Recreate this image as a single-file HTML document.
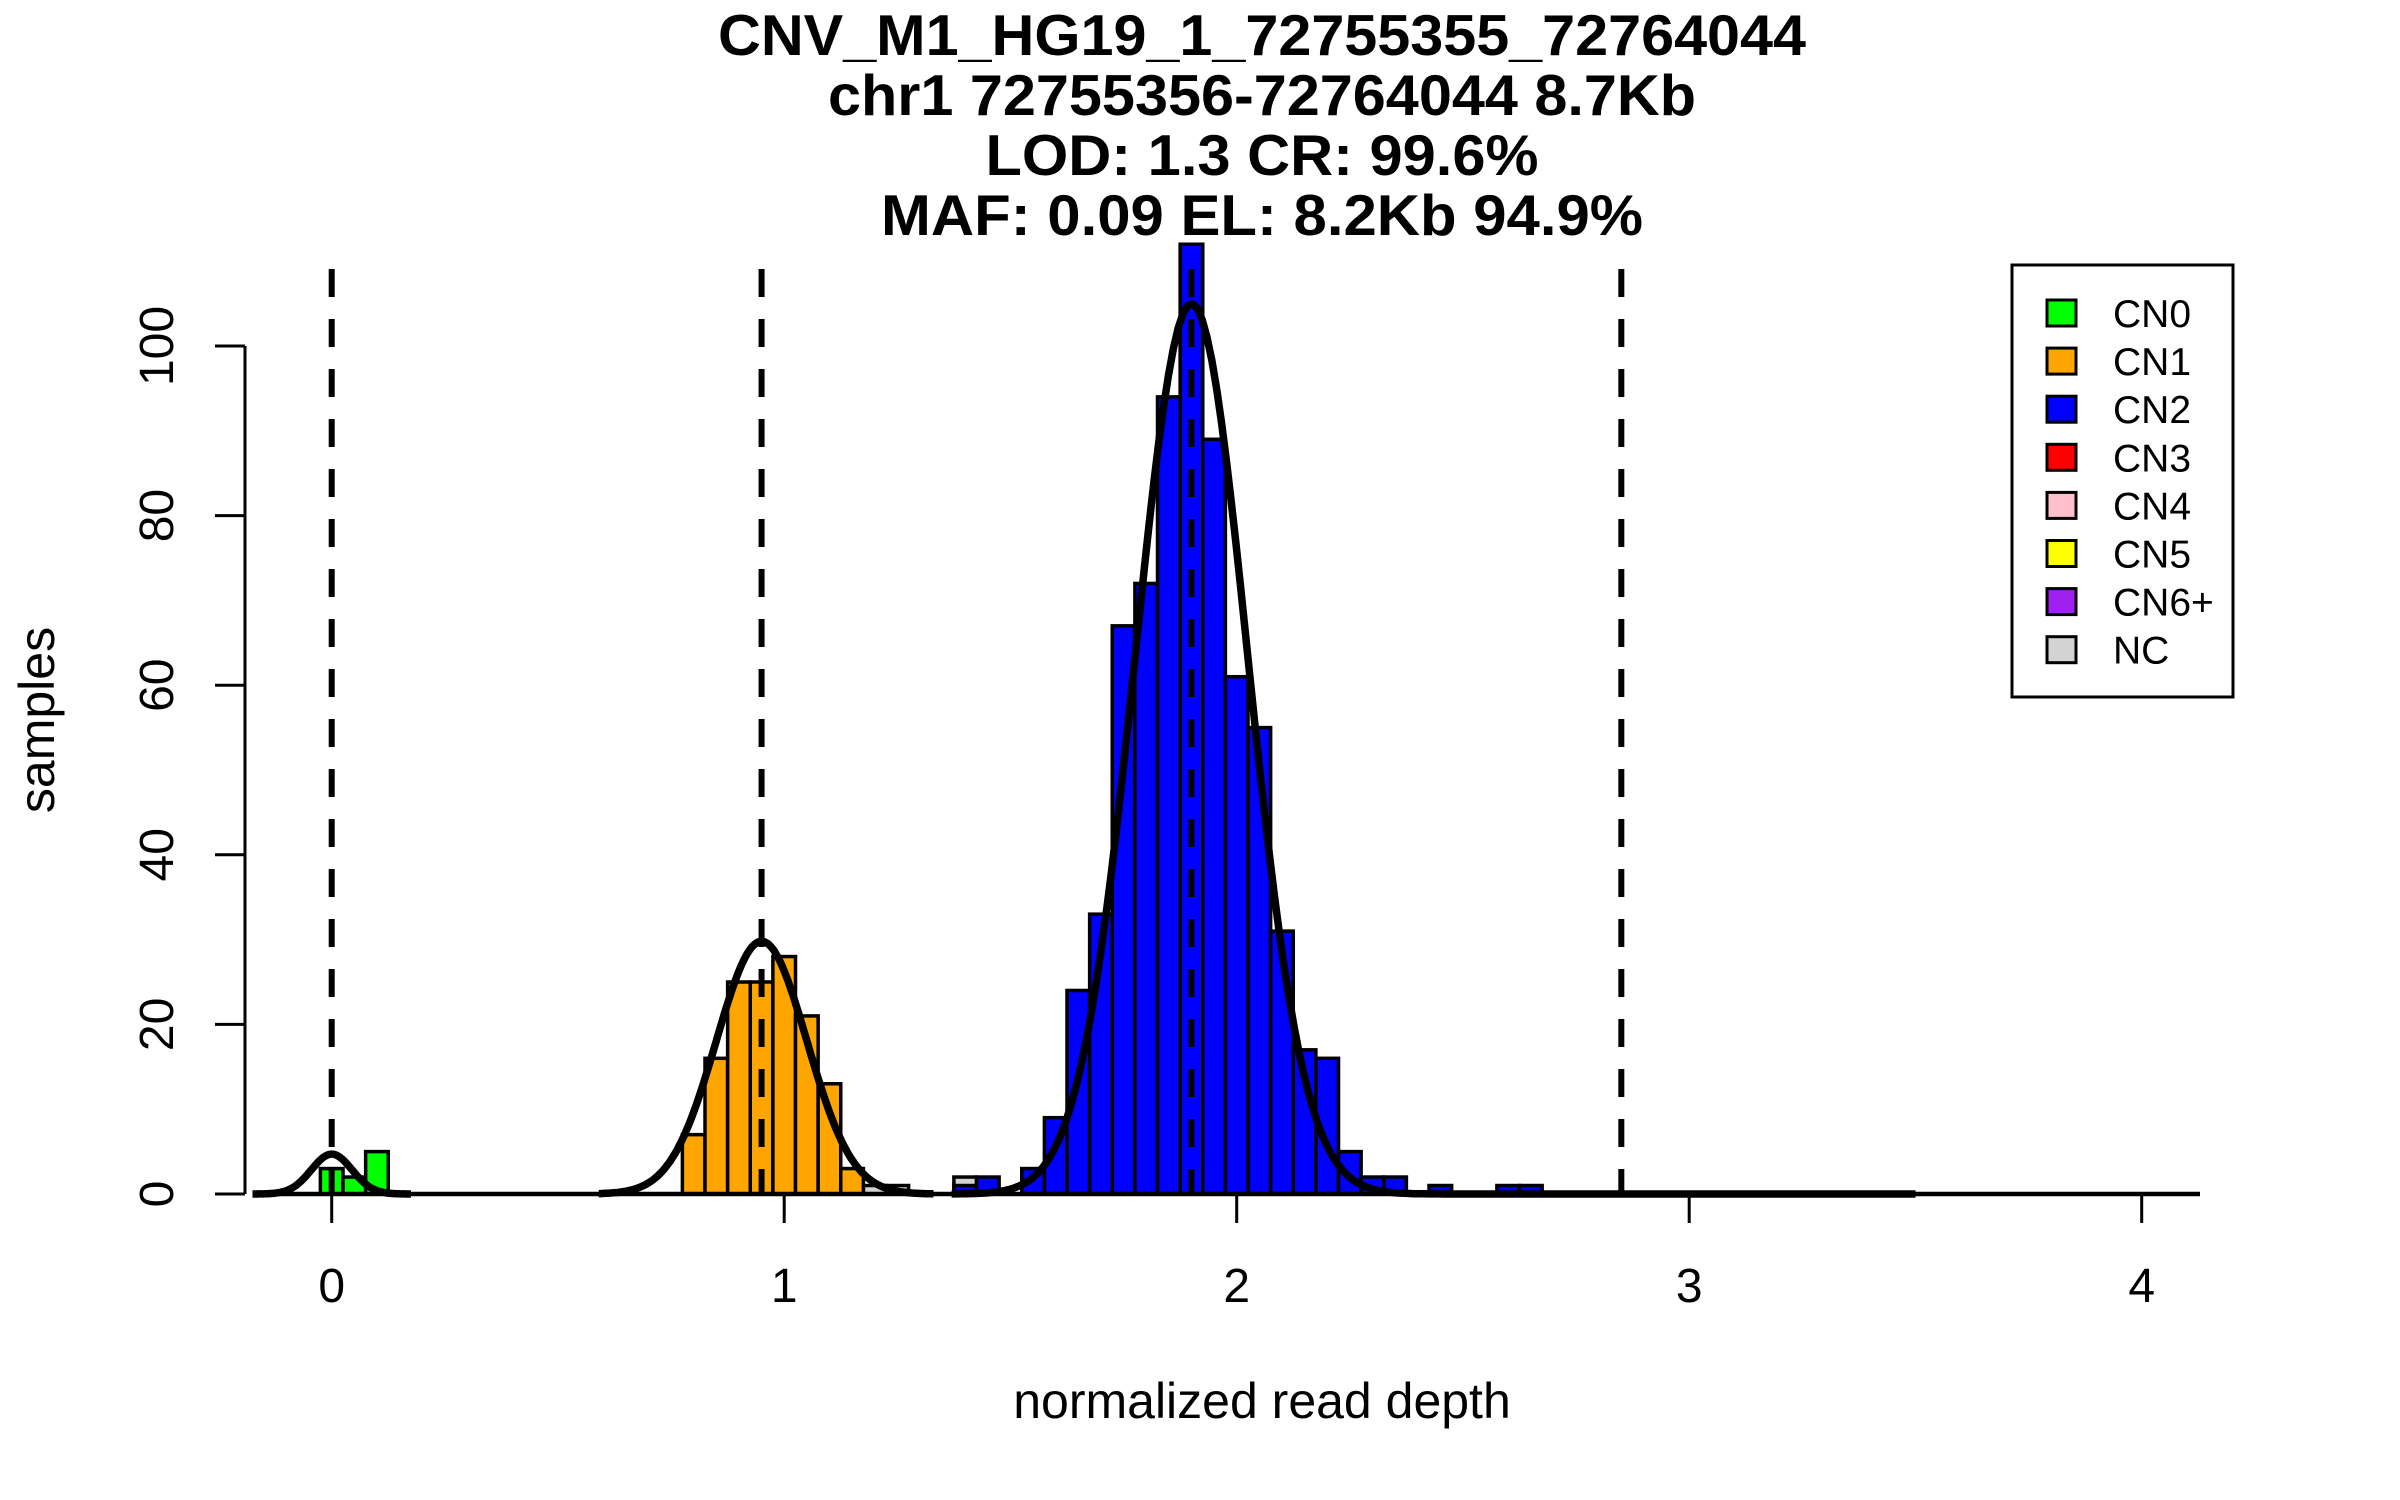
<!DOCTYPE html>
<html><head><meta charset="utf-8"><style>
html,body{margin:0;padding:0;background:#fff;}
svg{display:block;font-family:"Liberation Sans",sans-serif;}
</style></head><body>
<svg id="chart" width="2400" height="1500" viewBox="0 0 2400 1500" xmlns="http://www.w3.org/2000/svg">
<g font-weight="bold" font-size="57.6" text-anchor="middle">
<text x="1262" y="55" textLength="1088" lengthAdjust="spacingAndGlyphs">CNV_M1_HG19_1_72755355_72764044</text>
<text x="1262" y="115" textLength="868" lengthAdjust="spacingAndGlyphs">chr1 72755356-72764044 8.7Kb</text>
<text x="1262" y="175" textLength="553" lengthAdjust="spacingAndGlyphs">LOD: 1.3 CR: 99.6%</text>
<text x="1262" y="235" textLength="762" lengthAdjust="spacingAndGlyphs">MAF: 0.09 EL: 8.2Kb 94.9%</text>
</g>
<g id="bars"></g>
<g id="curves"></g>
<g id="vlines"></g>
<g id="axes"></g>
<text x="1262" y="1418" font-size="50" text-anchor="middle">normalized read depth</text>
<text x="0" y="0" font-size="50" text-anchor="middle" transform="translate(54,720) rotate(-90)">samples</text>
<g id="legend"></g>
</svg>
<script>
// ---- data ----
const binWidth = 0.05;
const greenStart = -0.025;
const greenCounts = [3, 2, 5];
const orangeStart = 0.775;
const orangeCounts = [7, 16, 25, 25, 28, 21, 13, 3];
const grayStarts = [1.175, 1.225, 1.375];
const grayCounts = [1, 1, 2];
const blueStart = 1.375;
const blueCounts = [1, 2, 0, 3, 9, 24, 33, 67, 72, 94, 112, 89, 61, 55, 31, 17, 16, 5, 2, 2, 0, 1, 0, 0, 1, 1];
const curveMeans = [0, 0.95, 1.9];
const curvePeaks = [4.7, 29.8, 105];
const curveSds = [0.045, 0.1, 0.124];
const curveFrom = [-0.175, 0.59, 1.37];
const curveTo = [0.175, 1.33, 3.5];
const thresholds = [0, 0.95, 1.9, 2.85];
const xTicks = [0, 1, 2, 3, 4];
const yTicks = [0, 20, 40, 60, 80, 100];
const legendLabels = ["CN0", "CN1", "CN2", "CN3", "CN4", "CN5", "CN6+", "NC"];
const legendColors = ["#00ff00", "#ffa500", "#0000ff", "#ff0000", "#ffc0cb", "#ffff00", "#a020f0", "#d3d3d3"];

// ---- scales ----
const X0 = 331.7, XU = 452.5, Y0 = 1194, YU = 8.48;
function sx(v){ return X0 + XU * v; }
function sy(v){ return Y0 - YU * v; }
const NS = "http://www.w3.org/2000/svg";
function mk(tag, attrs, parent){
  const e = document.createElementNS(NS, tag);
  for (const k in attrs) e.setAttribute(k, attrs[k]);
  parent.appendChild(e);
  return e;
}

const bars = document.getElementById('bars');
function drawHist(start, counts, color, name){
  counts.forEach(function(c, i){
    const a = start + i * binWidth;
    const r = mk('rect', {x: sx(a), y: sy(c), width: XU * binWidth, height: YU * c, fill: color, stroke: '#000', 'stroke-width': 3.5}, bars);
    
    
  });
}
grayStarts.forEach(function(s, i){ drawHist(s, [grayCounts[i]], '#d3d3d3', 'nc'); });
drawHist(greenStart, greenCounts, '#00ff00', 'cn0');
drawHist(orangeStart, orangeCounts, '#ffa500', 'cn1');
drawHist(blueStart, blueCounts, '#0000ff', 'cn2');

// baseline
const axes = document.getElementById('axes');
const base = mk('line', {x1: 253, x2: 2200, y1: sy(0), y2: sy(0), stroke: '#000', 'stroke-width': 4.5}, axes);



// curves
const curves = document.getElementById('curves');
curveMeans.forEach(function(m, k){
  let d = '';
  const n = 200;
  for (let i = 0; i <= n; i++){
    const v = curveFrom[k] + (curveTo[k] - curveFrom[k]) * i / n;
    const yv = curvePeaks[k] * Math.exp(-0.5 * Math.pow((v - m) / curveSds[k], 2));
    d += (i ? 'L' : 'M') + sx(v).toFixed(1) + ' ' + sy(yv).toFixed(1);
  }
  const p = mk('path', {d: d, fill: 'none', stroke: '#000', 'stroke-width': 7.5, 'stroke-linejoin': 'round'}, curves);
  
  
});

// threshold dashed lines
const vl = document.getElementById('vlines');
thresholds.forEach(function(t){
  const l = mk('line', {x1: sx(t), x2: sx(t), y1: 269, y2: sy(0), stroke: '#000', 'stroke-width': 6, 'stroke-dasharray': '28 22'}, vl);
  
  
});

// x axis
xTicks.forEach(function(t){
  const l = mk('line', {x1: sx(t), x2: sx(t), y1: sy(0), y2: 1223, stroke: '#000', 'stroke-width': 3}, axes);
  
  
  const tx = mk('text', {x: sx(t), y: 1302, 'font-size': 48, 'text-anchor': 'middle'}, axes);
  tx.textContent = String(t);
  
  
});
// y axis
const ya = mk('line', {x1: 245, x2: 245, y1: sy(0), y2: sy(100), stroke: '#000', 'stroke-width': 3}, axes);


yTicks.forEach(function(t){
  const l = mk('line', {x1: 215, x2: 245, y1: sy(t), y2: sy(t), stroke: '#000', 'stroke-width': 3}, axes);
  
  
  const tx = mk('text', {x: 0, y: 0, 'font-size': 48, 'text-anchor': 'middle', transform: 'translate(173,' + sy(t) + ') rotate(-90)'}, axes);
  tx.textContent = String(t);
  
  
});

// legend
const lg = document.getElementById('legend');
const box = mk('rect', {x: 2012, y: 265, width: 221, height: 432, fill: '#fff', stroke: '#000', 'stroke-width': 3}, lg);


legendLabels.forEach(function(lab, i){
  const cy = 313 + i * 48.1;
  const r = mk('rect', {x: 2047, y: cy - 13, width: 29, height: 26, fill: legendColors[i], stroke: '#000', 'stroke-width': 3}, lg);
  
  
  const t = mk('text', {x: 2113, y: cy + 14, 'font-size': 39}, lg);
  t.textContent = lab;
  
  
});
</script>
</body></html>
